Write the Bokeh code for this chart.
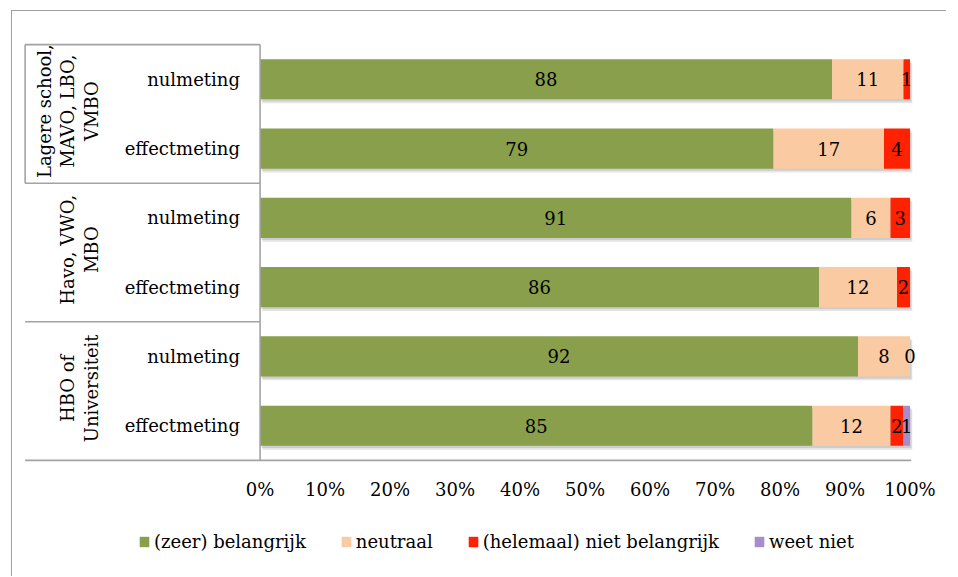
import numpy as np
from bokeh.plotting import figure
from bokeh.layouts import column
from bokeh.models import ColumnDataSource, Range1d, FixedTicker, Legend, LegendItem
from bokeh.core.properties import value
from bokeh.embed import file_html
from bokeh.resources import INLINE

# ---------------- data ----------------
groups = ["Lagere school,\nMAVO, LBO,\nVMBO", "Havo, VWO,\nMBO", "HBO of\nUniversiteit"]
measurements = ["nulmeting", "effectmeting",
                "nulmeting", "effectmeting",
                "nulmeting", "effectmeting"]
series_names = ["(zeer) belangrijk", "neutraal", "(helemaal) niet belangrijk", "weet niet"]
zeer_belangrijk = [88, 79, 91, 86, 92, 85]
neutraal = [11, 17, 6, 12, 8, 12]
niet_belangrijk = [1, 4, 3, 2, 0, 2]
weet_niet = [np.nan, np.nan, np.nan, np.nan, np.nan, 1]
x_ticks = [0, 10, 20, 30, 40, 50, 60, 70, 80, 90, 100]
x_tick_labels = ["0%", "10%", "20%", "30%", "40%", "50%", "60%", "70%", "80%", "90%", "100%"]

# ---------------- styling ----------------
colors = ["#8A9F4C", "#FACAA2", "#FF2200", "#A58ECB"]
FONT = "DejaVu Serif"
GRAY = "#A3A3A3"
FIG_W = 934

n = len(measurements)
ypos = np.arange(n)[::-1] + 0.5          # top row first
group_y = [ypos[2 * i:2 * i + 2].mean() + 0.04 for i in range(len(groups))]
bar_h = 0.58

fields = ["zeer", "neutraal", "niet", "weet"]
src = ColumnDataSource(dict(y=ypos, zeer=zeer_belangrijk, neutraal=neutraal,
                            niet=niet_belangrijk, weet=weet_niet))

x_left = -36.4
p = figure(frame_width=893, frame_height=420,
           x_range=Range1d(x_left, 101.0), y_range=Range1d(-0.03, 6.03),
           output_backend="svg", toolbar_location=None,
           min_border_left=11, min_border_top=31, min_border_right=30,
           min_border_bottom=40)
p.outline_line_color = None
p.xgrid.grid_line_color = None
p.ygrid.grid_line_color = None
p.yaxis.visible = False

# shadow under bars
vals = np.vstack([zeer_belangrijk, neutraal, niet_belangrijk, np.nan_to_num(weet_niet)])
totals = vals.sum(axis=0)
p.hbar(y=ypos - 0.055, left=0.35, right=totals + 0.35, height=bar_h,
       fill_color="black", fill_alpha=0.10, line_color=None)
p.hbar(y=ypos - 0.03, left=0.2, right=totals + 0.2, height=bar_h,
       fill_color="black", fill_alpha=0.10, line_color=None)

renderers = p.hbar_stack(fields, y="y", height=bar_h, color=colors,
                         line_color=None, source=src)

# value labels
lab_x, lab_y, lab_t = [], [], []
cum = np.zeros(n)
raw = [zeer_belangrijk, neutraal, niet_belangrijk, weet_niet]
for s in raw:
    for i, v in enumerate(s):
        if not np.isnan(v):
            lab_x.append(cum[i] + v / 2.0)
            lab_y.append(ypos[i])
            lab_t.append(str(int(v)))
    cum = cum + np.nan_to_num(np.asarray(s, dtype=float))
p.text(x=lab_x, y=lab_y, text=lab_t, text_font=value(FONT), text_font_size="18px",
       text_align="center", text_baseline="middle", text_color="black")

# category labels
p.text(x=[-3.1] * n, y=ypos, text=measurements, text_font=value(FONT),
       text_font_size="18px", text_align="right", text_baseline="middle",
       text_color="black")
p.text(x=[-24.3] * len(groups), y=group_y, text=groups, angle=np.pi / 2,
       text_font=value(FONT), text_font_size="18px", text_align="center",
       text_baseline="bottom", text_line_height=1.13, text_color="black")

# table lines and axis lines
xl = -36.15
p.segment(x0=[xl, xl, xl, 0, xl, xl], y0=[6, 4, 2, 0, 4, 0],
          x1=[0, 0, 0, 0, xl, 100.2], y1=[6, 4, 2, 6, 6, 0],
          line_color=GRAY, line_width=1.6)

# x axis
p.xaxis.ticker = FixedTicker(ticks=x_ticks)
p.xaxis.major_label_overrides = dict(zip(x_ticks, x_tick_labels))
p.xaxis.major_tick_line_color = None
p.xaxis.minor_tick_line_color = None
p.xaxis.axis_line_color = None
p.xaxis.major_label_standoff = 10
p.xaxis.major_label_text_font = FONT
p.xaxis.major_label_text_font_size = "18px"
p.xaxis.major_label_text_color = "black"

# ---------------- legend strip ----------------
pl = figure(width=FIG_W, height=74, x_range=Range1d(0, 1), y_range=Range1d(0, 1),
            output_backend="svg", toolbar_location=None,
            min_border_left=0, min_border_right=0, min_border_top=0, min_border_bottom=0)
pl.axis.visible = False
pl.grid.grid_line_color = None
pl.outline_line_color = None
leg_renderers = [pl.hbar(y=[-5], left=[0], right=[0.1], height=0.1, fill_color=c, line_color=None)
                 for c in colors]
legend = Legend(items=[LegendItem(label=nm, renderers=[r]) for nm, r in zip(series_names, leg_renderers)],
                orientation="horizontal", location=(115, 24),
                label_text_font=FONT, label_text_font_size="18px", label_text_color="black",
                glyph_width=12, glyph_height=13, label_standoff=4, spacing=34,
                border_line_color=None, background_fill_alpha=0, padding=0, margin=0)
pl.add_layout(legend, "center")

layout = column(p, pl, spacing=0)
layout.styles = {"border-left": "1px solid #A0A0A0", "border-top": "1px solid #A0A0A0",
                 "margin-left": "11px", "margin-top": "10px"}

open("out.html", "w").write(file_html(layout, INLINE))
